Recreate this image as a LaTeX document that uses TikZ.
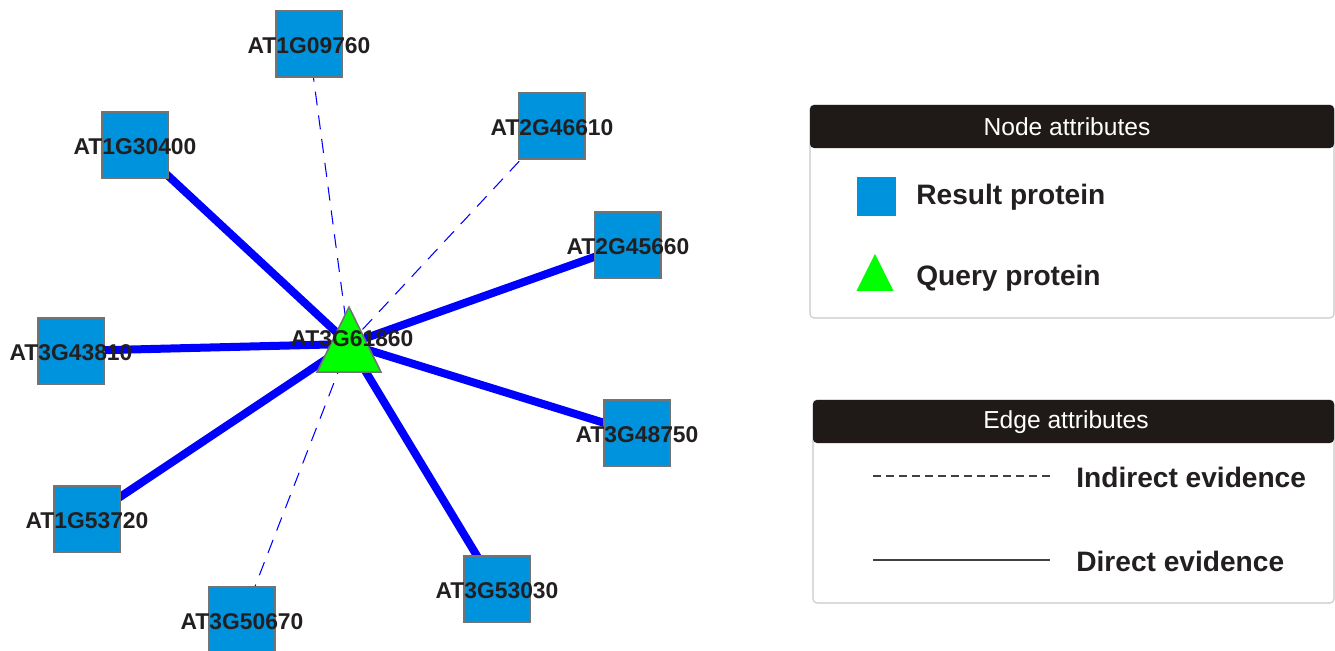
\documentclass[tikz,border=0pt]{standalone}
\usepackage{fontspec}
\setmainfont{Liberation Sans}
\usetikzlibrary{shapes.geometric,backgrounds}
\definecolor{resblue}{RGB}{0,147,221}
\definecolor{edgeblue}{RGB}{0,0,255}
\definecolor{qgreen}{RGB}{0,255,0}
\definecolor{hdrblack}{RGB}{31,26,23}
\definecolor{txtblack}{RGB}{35,31,32}
\definecolor{framegray}{RGB}{200,200,200}
\tikzset{
  result/.style={draw=black!55, line width=0.9pt, fill=resblue, minimum width=1.32cm, minimum height=1.32cm, inner sep=0pt},
  query/.style={isosceles triangle, shape border rotate=90, isosceles triangle stretches, draw=black!55, line width=0.9pt, fill=qgreen, minimum width=1.28cm, minimum height=1.3cm, inner sep=0pt},
  gene/.style={font=\fontsize{13}{15}\selectfont\bfseries, text=txtblack, inner sep=0pt, yshift=-0.04cm},
  direct/.style={edgeblue, line width=0.16cm},
  indirect/.style={edgeblue, line width=0.6pt, dash pattern=on 0.28cm off 0.2cm},
  legbox/.style={draw=framegray, line width=0.6pt, rounded corners=0.08cm},
  hdr/.style={fill=hdrblack, rounded corners=0.08cm},
  hdrtext/.style={font=\fontsize{14}{17}\selectfont, text=white},
  legtext/.style={font=\fontsize{16}{19}\selectfont\bfseries, text=txtblack, anchor=west, inner sep=0pt},
  legline/.style={black!75, line width=0.6pt},
}
\begin{document}
\begin{tikzpicture}[x=0.02cm, y=-0.02cm]
        \useasboundingbox (0,0) rectangle (1335,650);
        % network
        \node[result, label={[gene]center:AT1G09760}] (at1g09760) at (309,44) {};
        \node[result, label={[gene]center:AT2G46610}] (at2g46610) at (552,126) {};
        \node[result, label={[gene]center:AT1G30400}] (at1g30400) at (135,145) {};
        \node[result, label={[gene]center:AT2G45660}] (at2g45660) at (628,245) {};
        \node[result, label={[gene]center:AT3G43810}] (at3g43810) at (71,351) {};
        \node[result, label={[gene]center:AT3G48750}] (at3g48750) at (637,433) {};
        \node[result, label={[gene]center:AT1G53720}] (at1g53720) at (87,519) {};
        \node[result, label={[gene]center:AT3G53030}] (at3g53030) at (497,589) {};
        \node[result, label={[gene]center:AT3G50670}] (at3g50670) at (242,620) {};
        \node[query, anchor=apex] (at3g61860) at (349,305) {};
        \node[gene] (hublabel) at (352,337) {AT3G61860};
        \coordinate (hub) at ([yshift=-0.78cm]at3g61860.apex);
        \begin{scope}[on background layer]
        \draw[indirect] (at1g09760.center) -- (hub);
        \draw[indirect] (at2g46610.center) -- (hub);
        \draw[indirect] (at3g50670.center) -- (hub);
        \draw[direct] (at1g30400.center) -- (hub);
        \draw[direct] (at2g45660.center) -- (hub);
        \draw[direct] (at3g43810.center) -- (hub);
        \draw[direct] (at3g48750.center) -- (hub);
        \draw[direct] (at1g53720.center) -- (hub);
        \draw[direct] (at3g53030.center) -- (hub);
        \end{scope}
        % node legend
        \draw[legbox] (810,105) rectangle (1334,318);
        \fill[hdr] (810,105) rectangle (1334,148);
        \node[hdrtext] (nodehdr) at (1067,127) {Node attributes};
        \node[result, draw=none, minimum width=0.78cm, minimum height=0.78cm] (legres) at (876,196) {};
        \node[query, draw=none, minimum width=0.74cm, minimum height=0.74cm] (legquery) at (875,279.5) {};
        \node[legtext] (restext) at (916,197) {Result protein};
        \node[legtext] (querytext) at (916,278) {Query protein};
        % edge legend
        \draw[legbox] (813,400) rectangle (1334,603);
        \fill[hdr] (813,400) rectangle (1334,443);
        \node[hdrtext] (edgehdr) at (1066,422) {Edge attributes};
        \coordinate (ind0) at (873,476);
        \coordinate (ind1) at (1050,476);
        \coordinate (dir0) at (873,560);
        \coordinate (dir1) at (1050,560);
        \draw[legline, dash pattern=on 0.16cm off 0.1cm] (ind0) -- (ind1);
        \draw[legline] (dir0) -- (dir1);
        \node[legtext] (indtext) at (1076,477) {Indirect evidence};
        \node[legtext] (dirtext) at (1076,561) {Direct evidence};
\end{tikzpicture}
\end{document}
